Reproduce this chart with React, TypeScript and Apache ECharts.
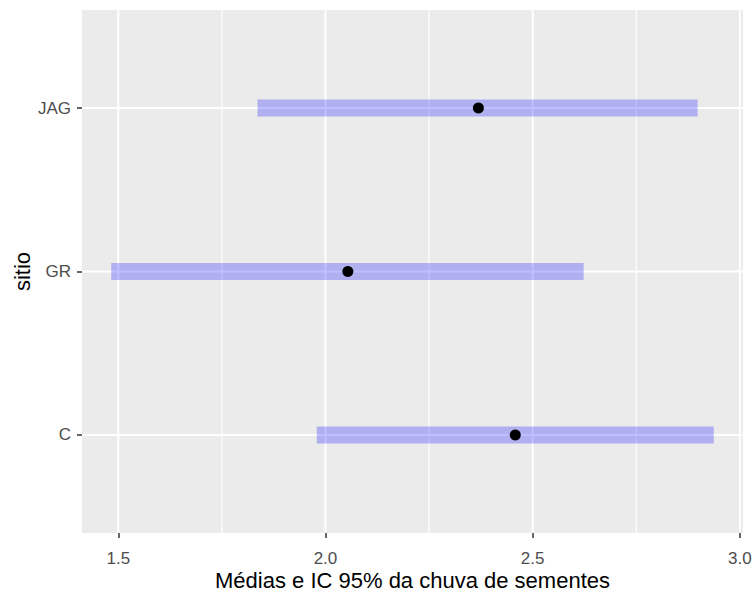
import React, { useEffect, useRef } from "react";
import * as echarts from "echarts";

const categories = ["C", "GR", "JAG"];
const means = [2.458, 2.054, 2.369];
const lowers = [1.979, 1.483, 1.836];
const uppers = [2.937, 2.623, 2.898];
const xMajorTicks = [1.5, 2.0, 2.5, 3.0];
const xMinorTicks = [1.75, 2.25, 2.75];
const xTitle = "Médias e IC 95% da chuva de sementes";
const yTitle = "sitio";

export default function App() {
  const ref = useRef<HTMLDivElement>(null);
  useEffect(() => {
    if (!ref.current) return;
    const chart = echarts.init(ref.current, undefined, { renderer: "svg" });
    const yPos = categories.map((_, i) => i + 1);
    const font = "Liberation Sans, Arial, sans-serif";

    const vLine = (width: number) => (params: any, api: any) => {
      const cs = params.coordSys;
      const x = api.coord([api.value(0), 2])[0];
      return {
        type: "line",
        shape: { x1: x, y1: cs.y, x2: x, y2: cs.y + cs.height },
        style: { stroke: "#FFFFFF", lineWidth: width },
        silent: true,
      };
    };

    chart.setOption({
      animation: false,
      backgroundColor: "#FFFFFF",
      grid: {
        left: 82,
        right: 11,
        top: 10,
        bottom: 59,
        show: true,
        backgroundColor: "#EBEBEB",
        borderWidth: 0,
        containLabel: false,
        outerBoundsMode: "none",
      },
      graphic: [
        {
          type: "text",
          x: 412.5,
          y: 580,
          style: {
            text: xTitle,
            fontSize: 22,
            lineHeight: 22,
            fontFamily: font,
            fill: "#000000",
            align: "center",
            verticalAlign: "middle",
          },
        },
        {
          type: "text",
          x: 22,
          y: 271.5,
          rotation: Math.PI / 2,
          style: {
            text: yTitle,
            fontSize: 22,
            lineHeight: 22,
            fontFamily: font,
            fill: "#000000",
            align: "center",
            verticalAlign: "middle",
          },
        },
      ],
      xAxis: {
        type: "value",
        min: 1.4125,
        max: 3.0075,
        axisLine: { show: false },
        splitLine: { show: false },
        axisTick: {
          show: true,
          customValues: xMajorTicks,
          length: 5,
          lineStyle: { color: "#333333", width: 1.5 },
        },
        axisLabel: {
          customValues: xMajorTicks,
          formatter: (v: number) => v.toFixed(1),
          fontSize: 17,
          lineHeight: 17,
          color: "#4D4D4D",
          fontFamily: font,
          margin: 17,
        },
      },
      yAxis: {
        type: "value",
        min: 0.4,
        max: 3.6,
        axisLine: { show: false },
        splitLine: { show: false },
        axisTick: {
          show: true,
          customValues: yPos,
          length: 5,
          lineStyle: { color: "#333333", width: 1.5 },
        },
        axisLabel: {
          customValues: yPos,
          formatter: (v: number) => categories[Math.round(v) - 1] ?? "",
          fontSize: 17,
          color: "#4D4D4D",
          fontFamily: font,
          margin: 11,
        },
      },
      series: [
        {
          type: "custom",
          name: "minor",
          silent: true,
          z: 1,
          data: xMinorTicks.map((v) => [v]),
          renderItem: vLine(1.2),
        },
        {
          type: "custom",
          name: "major",
          silent: true,
          z: 1,
          data: xMajorTicks.map((v) => [v]),
          renderItem: vLine(2),
        },
        {
          type: "custom",
          name: "hgrid",
          silent: true,
          z: 1,
          data: yPos.map((v) => [v]),
          renderItem: (params: any, api: any) => {
            const cs = params.coordSys;
            const y = api.coord([2, api.value(0)])[1];
            return {
              type: "line",
              shape: { x1: cs.x, y1: y, x2: cs.x + cs.width, y2: y },
              style: { stroke: "#FFFFFF", lineWidth: 2 },
              silent: true,
            };
          },
        },
        {
          type: "custom",
          name: "ci",
          z: 2,
          data: categories.map((_, i) => [lowers[i], uppers[i], i + 1]),
          encode: { x: [0, 1], y: 2 },
          renderItem: (params: any, api: any) => {
            const p1 = api.coord([api.value(0), api.value(2)]);
            const p2 = api.coord([api.value(1), api.value(2)]);
            const h = 17;
            return {
              type: "rect",
              shape: { x: p1[0], y: p1[1] - h / 2, width: p2[0] - p1[0], height: h },
              style: { fill: "rgba(0,0,255,0.25)" },
            };
          },
        },
        {
          type: "scatter",
          name: "mean",
          z: 3,
          symbol: "circle",
          symbolSize: 11,
          itemStyle: { color: "#000000", opacity: 1 },
          data: categories.map((_, i) => [means[i], i + 1]),
        },
      ],
    });
    return () => chart.dispose();
  }, []);
  return (
    <div
      ref={ref}
      style={{ position: "fixed", left: 0, top: 0, width: 754, height: 592 }}
    />
  );
}
